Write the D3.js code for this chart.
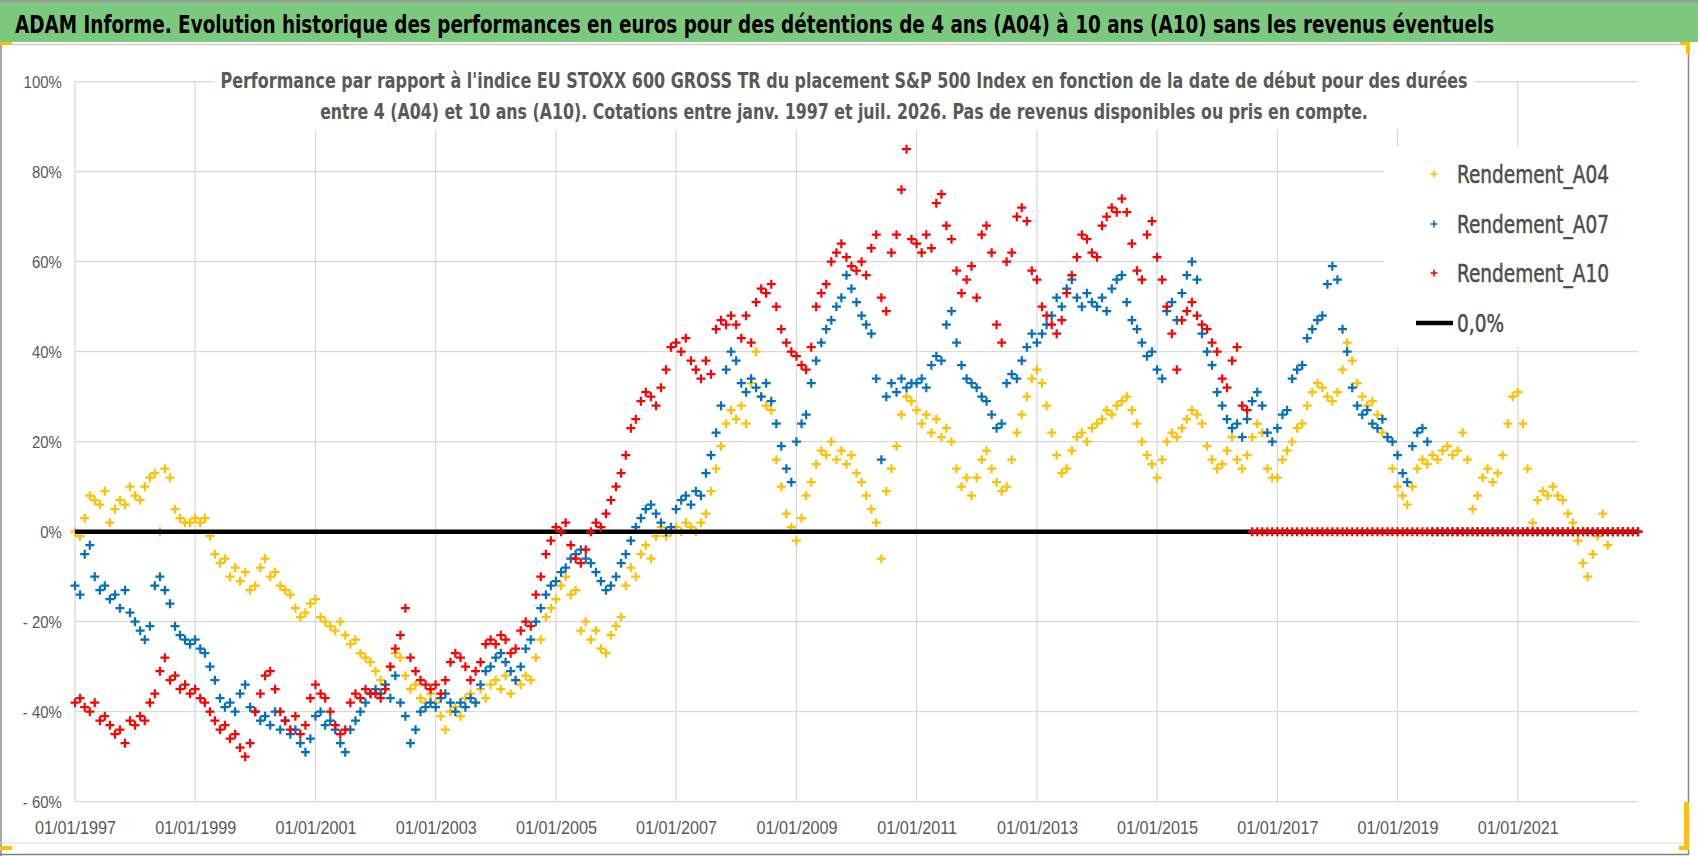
<!DOCTYPE html>
<html>
<head>
<meta charset="utf-8">
<script src="https://cdn.jsdelivr.net/npm/d3@7"></script>
<style>
  body { margin: 0; background: #fff; overflow: hidden; }
  svg { display: block; font-family: "Liberation Sans Narrow", "DejaVu Sans Condensed", "Arial Narrow", sans-serif; }
</style>
</head>
<body>
<svg id="chart" width="1698" height="856"></svg>
<script>
// monthly values (%), first value = January 1997, last = January 2023
const a04 = [
  0, -1, 3, 8, 7, 6, 9, 2, 5, 7, 6, 10,              // 1997
  8, 7, 10, 12, 13, 0, 14, 12, 5, 3, 2, 2,           // 1998
  3, 2, 3, -1, -5, -7, -6, -10, -8, -11, -9, -13,    // 1999
  -12, -8, -6, -10, -9, -12, -13, -14, -17, -19, -18, -16,
  -15, -19, -20, -21, -22, -20, -23, -25, -24, -27, -28, -29,
  -31, -33, -34, -30, -27, -28, -32, -35, -34, -37, -38, -36,
  -38, -41, -44, -40, -39, -41, -37, -36, -38, -35, -37, -34,
  -33, -35, -32, -36, -33, -34, -32, -33, -28, -24, -19, -17,
  -15, -12, -10, -14, -13, -22, -20, -24, -22, -26, -27, -23,
  -21, -19, -12, -8, -10, -5, -3, -6, -1, 1, -1, 0,  // 2006
  1, 0, 2, 1, 0, 2, 4, 9, 14, 19, 24, 27,
  25, 28, 24, 33, 40, 30, 28, 27, 16, 10, 4, 1,
  -2, 3, 8, 11, 15, 18, 17, 20, 16, 18, 15, 17,
  13, 11, 8, 5, 2, -6, 9, 14, 19, 26, 30, 29,        // 2010
  27, 24, 26, 22, 25, 21, 23, 20, 14, 10, 12, 8,
  12, 16, 18, 14, 11, 9, 10, 16, 22, 26, 30, 34,
  36, 33, 28, 22, 17, 13, 14, 18, 21, 22, 20, 23,
  24, 25, 27, 26, 28, 29, 30, 27, 24, 20, 17, 15,
  12, 16, 20, 22, 21, 23, 25, 27, 26, 24, 19, 16,
  14, 15, 18, 21, 16, 14, 17, 21, 24, 22, 14, 12,
  12, 16, 18, 20, 23, 24, 28, 31, 33, 32, 30, 29,
  31, 36, 42, 38, 33, 30, 28, 29, 26, 22, 21, 14,
  10, 8, 6, 10, 14, 16, 15, 17, 16, 18, 19, 17,
  18, 22, 16, 5, 8, 12, 14, 11, 13, 17, 24, 30,      // 2020
  31, 24, 14, 2, 7, 9, 8, 10, 8, 7, 4, 2,
  -2, -7, -10, -5, -1, 4, -3, 0, 0, 0, 0, 0,
  0
];

const a07 = [
  -12, -14, -5, -3, -10, -13, -12, -15, -14, -17, -13, -18,   // 1997
  -20, -22, -24, -21, -12, -10, -13, -16, -21, -23, -24, -25,
  -24, -26, -27, -30, -33, -37, -39, -38, -40, -36, -34, -39,
  -40, -42, -41, -43, -40, -44, -42, -45, -44, -47, -49, -46,
  -41, -40, -43, -42, -44, -47, -49, -44, -42, -40, -38, -36,
  -35, -36, -34, -37, -32, -38, -41, -47, -44, -40, -39, -38,
  -39, -37, -36, -38, -40, -38, -39, -37, -38, -34, -31, -30,
  -28, -27, -29, -31, -33, -30, -26, -24, -20, -17, -14, -12,
  -11, -9, -8, -6, -5, -4, -6, -7, -9, -11, -13, -12,
  -10, -7, -5, -2, 1, 3, 5, 6, 4, 2, 0, 1,                    // 2006
  5, 7, 8, 6, 9, 8, 13, 17, 22, 28, 36, 40,
  38, 33, 31, 34, 32, 30, 33, 29, 24, 19, 14, 11,
  20, 24, 26, 33, 38, 42, 45, 47, 50, 52, 57, 54,
  51, 48, 46, 44, 34, 16, 30, 33, 31, 34, 32, 33,             // 2010
  33, 34, 32, 37, 39, 38, 46, 49, 42, 37, 34, 33,
  32, 30, 29, 26, 23, 24, 33, 35, 34, 38, 41, 44,
  42, 44, 46, 48, 52, 50, 54, 56, 52, 50, 53, 51,
  50, 52, 49, 54, 56, 57, 51, 47, 45, 42, 39, 40,
  36, 34, 49, 51, 47, 53, 57, 60, 56, 44, 40, 37,
  31, 28, 25, 23, 24, 21, 25, 29, 31, 28, 22, 20,
  23, 26, 27, 34, 36, 37, 43, 45, 47, 48, 55, 59,
  56, 45, 40, 32, 28, 26, 27, 24, 23, 25, 21, 20,
  17, 13, 11, 19, 22, 23, 20, 0, 0, 0, 0, 0,
  0, 0, 0, 0, 0, 0, 0, 0, 0, 0, 0, 0,                         // 2020
  0, 0, 0, 0, 0, 0, 0, 0, 0, 0, 0, 0,
  0, 0, 0, 0, 0, 0, 0, 0, 0, 0, 0, 0,
  0
];

const a10 = [
  -38, -37, -39, -40, -38, -42, -41, -43, -45, -44, -47, -42, // 1997
  -43, -41, -42, -38, -36, -31, -28, -33, -32, -35, -34, -36,
  -35, -37, -38, -40, -42, -44, -43, -46, -45, -48, -50, -47,
  -40, -36, -32, -31, -35, -40, -42, -44, -41, -45, -43, -37,
  -34, -36, -37, -40, -43, -45, -44, -38, -36, -37, -35, -36,
  -36, -37, -35, -30, -26, -23, -17, -28, -31, -33, -34, -35,
  -34, -36, -33, -29, -27, -28, -30, -33, -31, -29, -25, -24,
  -25, -23, -24, -27, -26, -22, -20, -21, -14, -10, -5, -2,
  1, 0, 2, -3, -6, -7, -4, 0, 2, 1, 4, 7,
  10, 13, 17, 23, 25, 29, 31, 30, 28, 32, 36, 41,             // 2006
  42, 40, 43, 38, 36, 34, 38, 35, 45, 47, 46, 48,
  46, 43, 48, 42, 51, 54, 53, 55, 50, 45, 42, 40,
  39, 37, 36, 41, 50, 53, 55, 60, 62, 64, 61, 59,
  58, 60, 57, 63, 66, 52, 49, 62, 66, 76, 85, 65,             // 2010
  64, 62, 66, 63, 73, 75, 68, 65, 58, 53, 56, 59,
  52, 66, 68, 62, 46, 42, 60, 62, 70, 72, 69, 58,
  56, 50, 48, 46, 44, 47, 53, 57, 61, 66, 65, 62,
  61, 68, 70, 72, 71, 74, 71, 64, 58, 56, 66, 69,
  61, 56, 50, 44, 36, 47, 49, 51, 48, 46, 45, 42,
  40, 34, 32, 38, 41, 28, 27, 0, 0, 0, 0, 0,
  0, 0, 0, 0, 0, 0, 0, 0, 0, 0, 0, 0,
  0, 0, 0, 0, 0, 0, 0, 0, 0, 0, 0, 0,
  0, 0, 0, 0, 0, 0, 0, 0, 0, 0, 0, 0,
  0, 0, 0, 0, 0, 0, 0, 0, 0, 0, 0, 0,                         // 2020
  0, 0, 0, 0, 0, 0, 0, 0, 0, 0, 0, 0,
  0, 0, 0, 0, 0, 0, 0, 0, 0, 0, 0, 0,
  0
];

const seriesNames = ["Rendement_A04", "Rendement_A07", "Rendement_A10"];
const seriesColors = ["#ffc000", "#0070c0", "#ff0000"];
const zeroLabel = "0,0%";
const yTicks = [-60, -40, -20, 0, 20, 40, 60, 80, 100];
const xTickYears = [1997, 1999, 2001, 2003, 2005, 2007, 2009, 2011, 2013, 2015, 2017, 2019, 2021];

const mainTitle = "ADAM Informe. Evolution historique des performances en euros pour des détentions de 4 ans (A04) à 10 ans (A10) sans les revenus éventuels";
const subTitle = [
  "Performance par rapport à l'indice EU STOXX 600 GROSS TR  du placement S&P 500 Index en fonction de la date de début pour des durées",
  "entre 4 (A04) et 10 ans (A10). Cotations entre janv. 1997 et juil. 2026. Pas de revenus disponibles ou pris en compte."
];

const svg = d3.select("#chart");
const textGrey = "#595959";
const gridGrey = "#d9d9d9";

const months = a04.map((v, i) => new Date(1997, i, 1));

const x = d3.scaleTime()
  .domain([new Date(1997, 0, 1), new Date(2023, 0, 1)])
  .range([75, 1638]);
const y = d3.scaleLinear()
  .domain([-60, 100])
  .range([801.7, 81.7]);

// squeeze a text horizontally so it spans the given width (the source font is condensed)
function squeeze(sel, tx, ty, width) {
  sel.attr("x", 0).attr("y", 0);
  const w = sel.node().getComputedTextLength();
  const s = Math.min(1, width / w);
  sel.attr("transform", `translate(${tx},${ty}) scale(${s},1)`);
  return s;
}

// sheet decorations: green title cell and chart frame
svg.append("line").attr("x1", 0).attr("x2", 1698).attr("y1", 1).attr("y2", 1)
  .attr("stroke", "#9a9a9a").attr("stroke-width", 2);
svg.append("rect").attr("x", 0).attr("y", 2).attr("width", 1698).attr("height", 40)
  .attr("fill", "#7dc87f");
svg.append("text")
  .attr("font-size", 25).attr("font-weight", "bold").attr("fill", "#000")
  .text(mainTitle)
  .call(squeeze, 15, 33, 1480);

const frame = svg.append("g").attr("fill", "none");
frame.append("line").attr("x1", 0).attr("x2", 1688).attr("y1", 44.5).attr("y2", 44.5)
  .attr("stroke", "#d0d0d0").attr("stroke-width", 1.5);
frame.append("line").attr("x1", 1).attr("x2", 1).attr("y1", 42).attr("y2", 856)
  .attr("stroke", "#8a8a8a").attr("stroke-width", 1.5);
frame.append("line").attr("x1", 1688.5).attr("x2", 1688.5).attr("y1", 45).attr("y2", 855)
  .attr("stroke", "#8a8a8a").attr("stroke-width", 1.5);
frame.append("line").attr("x1", 0).attr("x2", 1688).attr("y1", 843).attr("y2", 843)
  .attr("stroke", "#d9d9d9").attr("stroke-width", 1.2);
frame.append("line").attr("x1", 0).attr("x2", 1689).attr("y1", 854.5).attr("y2", 854.5)
  .attr("stroke", "#7f7f7f").attr("stroke-width", 1.5);

const handles = svg.append("g").attr("fill", "#ffc000");
handles.append("rect").attr("x", 0).attr("y", 42).attr("width", 12).attr("height", 3);
handles.append("rect").attr("x", 1680).attr("y", 42).attr("width", 10).attr("height", 3);
handles.append("rect").attr("x", 1686).attr("y", 42).attr("width", 4).attr("height", 12);
handles.append("rect").attr("x", 1684).attr("y", 802).attr("width", 5).attr("height", 48);
handles.append("rect").attr("x", 1679).attr("y", 846).attr("width", 10).attr("height", 4);
handles.append("rect").attr("x", 0).attr("y", 846).attr("width", 12).attr("height", 4);

// gridlines
const grid = svg.append("g").attr("stroke", gridGrey).attr("stroke-width", 1.3);
grid.selectAll(".hgrid").data(yTicks).join("line")
  .attr("class", "hgrid")
  .attr("x1", x.range()[0]).attr("x2", x.range()[1])
  .attr("y1", d => y(d)).attr("y2", d => y(d));
grid.selectAll(".vgrid").data(xTickYears).join("line")
  .attr("class", "vgrid")
  .attr("x1", d => x(new Date(d, 0, 1))).attr("x2", d => x(new Date(d, 0, 1)))
  .attr("y1", y(100)).attr("y2", y(-60));

// axes (labels only)
const yAxis = svg.append("g")
  .attr("transform", `translate(${x.range()[0]},0)`)
  .call(d3.axisLeft(y).tickValues(yTicks).tickSize(0).tickPadding(15)
    .tickFormat(d => d < 0 ? "- " + (-d) + "%" : d + "%"));
yAxis.select(".domain").remove();
yAxis.selectAll("text").attr("font-size", 17).attr("fill", textGrey)
  .attr("font-family", null).attr("transform", "scale(0.88,1)");

const xAxis = svg.append("g")
  .attr("transform", `translate(0,${y(-60)})`)
  .call(d3.axisBottom(x).tickValues(xTickYears.map(d => new Date(d, 0, 1)))
    .tickSize(0).tickPadding(20).tickFormat(d3.timeFormat("%d/%m/%Y")));
xAxis.select(".domain").remove();
xAxis.selectAll("text").attr("font-size", 18).attr("fill", textGrey)
  .attr("font-family", null).attr("transform", "scale(0.9,1)");

// chart subtitle sits on a white box over the top gridline
svg.append("rect").attr("x", 214).attr("y", 64).attr("width", 1260).attr("height", 66)
  .attr("fill", "#fff");
const sub = svg.append("g")
  .attr("font-size", 21).attr("font-weight", "bold").attr("fill", textGrey)
  .attr("text-anchor", "middle");
sub.append("text").text(subTitle[0]).call(squeeze, 844, 88, 1248);
sub.append("text").text(subTitle[1]).call(squeeze, 844, 119, 1048);

// series
const plusPath = "M-4.5,0H4.5M0,-4.5V4.5";
const seriesData = [a04, a07, a10];

function drawSeries(k) {
  svg.append("g")
    .attr("fill", "none")
    .attr("stroke", seriesColors[k])
    .attr("stroke-width", 2.2)
    .selectAll("path")
    .data(seriesData[k])
    .join("path")
    .attr("transform", (d, i) => `translate(${x(months[i])},${y(d)})`)
    .attr("d", plusPath);
}

drawSeries(0);
drawSeries(1);

svg.append("path")
  .datum([x.domain()[0], x.domain()[1]])
  .attr("fill", "none")
  .attr("stroke", "#000")
  .attr("stroke-width", 4.5)
  .attr("d", d3.line().x(d => x(d)).y(() => y(0)));

drawSeries(2);

// legend
svg.append("rect").attr("x", 1384).attr("y", 147).attr("width", 256).attr("height", 200)
  .attr("fill", "#fff");
const legend = svg.append("g").attr("font-size", 25).attr("fill", "#4d4d4d")
  .attr("stroke", "#4d4d4d").attr("stroke-width", 0.5);
const legendY = [174, 224, 273, 323];
let legendScale = 1;
seriesNames.forEach((name, k) => {
  legend.append("path")
    .attr("transform", `translate(1434,${legendY[k]})`)
    .attr("d", "M-3.5,0H3.5M0,-3.5V3.5")
    .attr("fill", "none")
    .attr("stroke", seriesColors[k]).attr("stroke-width", 1.6);
  const t = legend.append("text").attr("dy", "0.36em").text(name);
  if (k === 0) legendScale = squeeze(t, 1457, legendY[k], 152);
  else t.attr("transform", `translate(1457,${legendY[k]}) scale(${legendScale},1)`);
});
legend.append("line")
  .attr("x1", 1416).attr("x2", 1453).attr("y1", legendY[3]).attr("y2", legendY[3])
  .attr("stroke", "#000").attr("stroke-width", 4.5);
legend.append("text").attr("dy", "0.36em").text(zeroLabel)
  .attr("transform", `translate(1457,${legendY[3]}) scale(${legendScale},1)`);
</script>
</body>
</html>
